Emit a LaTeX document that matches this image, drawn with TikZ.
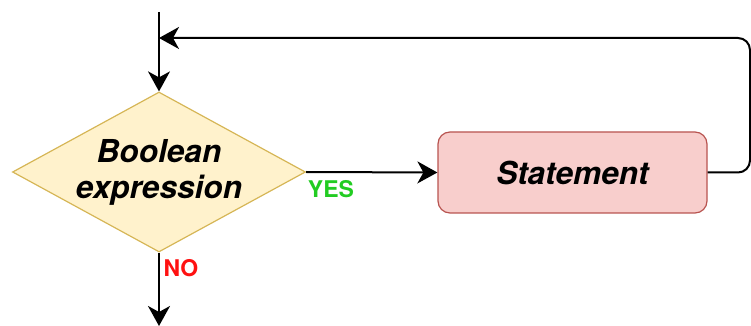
\documentclass[tikz,border=0pt]{standalone}
\usepackage{fontspec}
\setmainfont{TeX Gyre Heros}
\usetikzlibrary{shapes.geometric,arrows.meta}
\definecolor{condfill}{HTML}{FFF2CC}
\definecolor{conddraw}{HTML}{D6B656}
\definecolor{stmtfill}{HTML}{F8CECC}
\definecolor{stmtdraw}{HTML}{B85450}
\definecolor{yesgreen}{HTML}{22CC22}
\definecolor{nored}{HTML}{FF1111}
\begin{document}
\begin{tikzpicture}[x=0.5pt,y=-0.5pt, % one unit is one pixel of the sketch
    flow/.style={draw=black,line width=1pt,-{Stealth[length=10pt,width=11pt,inset=3pt]}},
    cond/.style={diamond,draw=conddraw,fill=condfill,line width=0.6pt,inner sep=0pt,
        minimum width=146.5pt,minimum height=80pt},
    condtext/.style={align=center,inner sep=0pt,
        font=\fontsize{15.8}{18}\selectfont\bfseries\itshape},
    stmtbox/.style={rectangle,rounded corners=6pt,draw=stmtdraw,fill=stmtfill,line width=0.6pt,
        minimum width=134.5pt,minimum height=40.5pt,
        font=\fontsize{15.8}{18}\selectfont\bfseries\itshape},
    answer/.style={font=\fontsize{11.5}{13}\selectfont\bfseries,inner sep=0pt}]
    \useasboundingbox (0,0) rectangle (751,326);

    % the test and the loop body
    \node[cond] (test) at (159,172) {};
    \node[condtext] (testtext) at (test.center) {Boolean\\expression};
    \node[stmtbox] (body) at (572.5,172.5) {Statement};

    % free ends of the connectors
    \coordinate (entry) at (159,12);
    \coordinate (corner) at (750,38);
    \coordinate (join) at (159,38);
    \coordinate (exit) at (159,326);

    % into the test
    \draw[flow] (entry) -- (test.north);
    % yes: run the body, then go back
    \draw[flow] (test.east) -- (body.west);
    \draw[flow,rounded corners=6pt] (body.east) -| (corner) -- (join);
    % no: leave the loop
    \draw[flow] (test.south) -- (exit);

    % answers
    \node[answer,text=yesgreen] (yes) at (331,189) {YES};
    \node[answer,text=nored] (no) at (181,268) {NO};
\end{tikzpicture}
\end{document}
